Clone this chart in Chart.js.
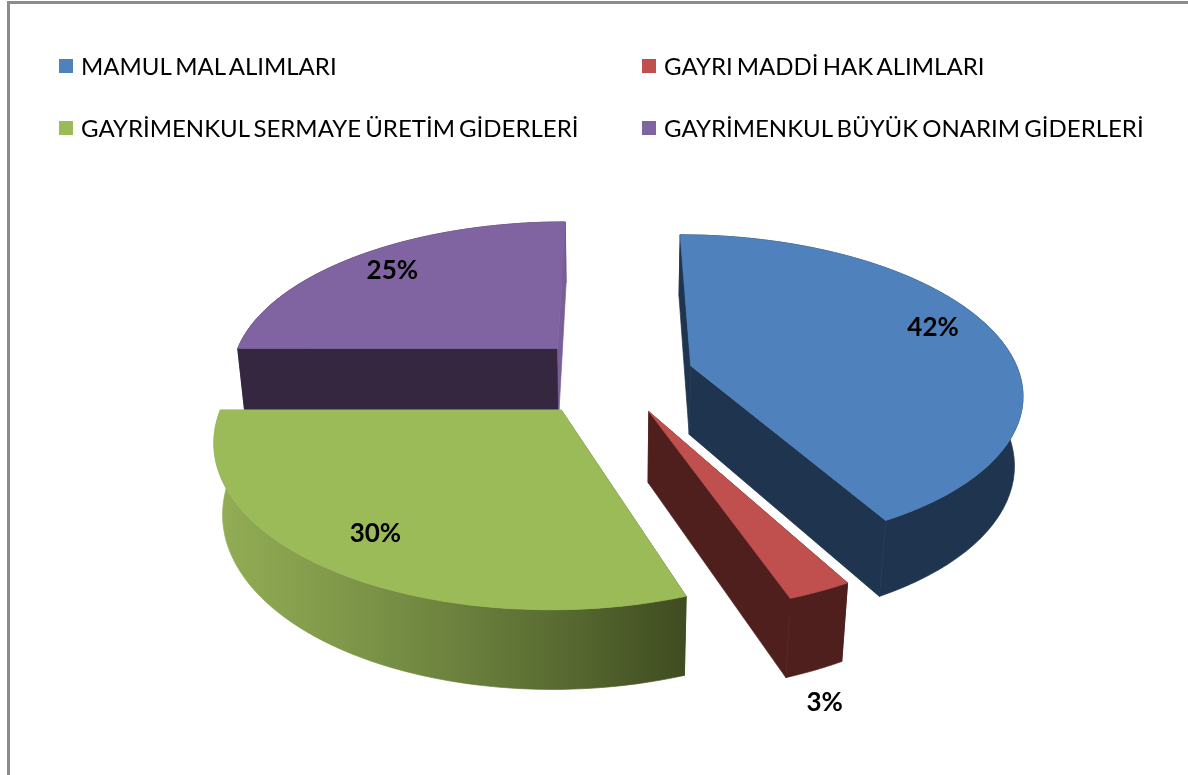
<!DOCTYPE html>
<html lang="tr">
<head>
<meta charset="utf-8">
<title>Alımlar ve giderler</title>
<script src="https://cdn.jsdelivr.net/npm/chart.js@4/dist/chart.umd.js"></script>
<style>
  html, body { margin: 0; padding: 0; background: #fff; overflow: hidden; }
  #frame { position: absolute; left: 7px; top: 1px; width: 1181px; height: 774px;
           border-left: 3px solid #8c8c8c; border-top: 3px solid #8c8c8c; box-sizing: border-box; }
  #pie { position: absolute; left: 0; top: 0; }
  .legend-item { position: absolute; font: 24px Lato, sans-serif; color: #000; white-space: nowrap;
                 line-height: 28px; word-spacing: -2px; }
  .legend-item i { position: absolute; left: -22px; top: 7px; width: 14px; height: 14px; }
</style>
</head>
<body>
<div id="frame"></div>
<canvas id="pie" width="1188" height="775"></canvas>
<div id="legend"></div>
<script>
// Chart data
const categories = ['MAMUL MAL ALIMLARI', 'GAYRI MADDİ HAK ALIMLARI', 'GAYRİMENKUL SERMAYE ÜRETİM GİDERLERİ', 'GAYRİMENKUL BÜYÜK ONARIM GİDERLERİ'];
const shares = [42, 2.6, 30.4, 25];

// Slice styles
const topColors = ['#4f81bd', '#c0504d', '#9bbb59', '#8064a2'];
const wallColors = ['#1f354f', '#4f1f1d', null, '#35273f'];
const endFaceColors = ['#1f354f', '#4f1f1d', '#93ae55', '#7a5e98'];
const greenWallStops = ['#93ae55', '#7a9347', '#5f7235', '#3f4c20'];
const explodeOffsets = [80, 82, 88, 82];
const labelRadii = [0.8, 1.2, 0.81, 0.82];
const labelShifts = [[0, -9], [-37, 67], [0, 0], [0, 0]];
const legendColumns = [81, 664];
const legendRows = [52, 114];

// Camera used to project the flat pie
const camera = { tilt: 0.49, distance: 1800, depth: 80 };

/**
 * Projects a point on the pie plane onto the canvas
 */
function project(arc, px, py, pz) {
  const sinT = Math.sin(camera.tilt);
  const cosT = Math.cos(camera.tilt);
  const toward = py * cosT + pz * sinT;
  const up = -py * sinT + pz * cosT;
  const scale = camera.distance / (camera.distance - toward);
  return { x: arc.x + px * scale, y: arc.y - up * scale };
}

/**
 * Returns a function that gives the canvas position of an angle and radius inside a slice
 */
function slicePoint(arc) {
  const mid = (arc.startAngle + arc.endAngle) / 2;
  const ox = Math.cos(mid) * arc.options.offset;
  const oy = Math.sin(mid) * arc.options.offset;
  return (angle, radius, pz) => project(arc, ox + Math.cos(angle) * radius, oy + Math.sin(angle) * radius, pz);
}

function fillPolygon(ctx, points, fill) {
  ctx.beginPath();
  points.forEach((p, i) => (i ? ctx.lineTo(p.x, p.y) : ctx.moveTo(p.x, p.y)));
  ctx.closePath();
  ctx.fillStyle = fill;
  ctx.strokeStyle = fill;
  ctx.lineWidth = 0.7;
  ctx.fill();
  ctx.stroke();
}

/**
 * Draws a slice: curved wall, cut faces and top
 */
function drawSlice(ctx, arc, index) {
  const at = slicePoint(arc);
  const R = arc.outerRadius;
  const h = -camera.depth;
  const rimAngles = [];
  for (let i = 0; i <= 60; i++) {
    rimAngles.push(arc.startAngle + (arc.endAngle - arc.startAngle) * i / 60);
  }
  const topRim = rimAngles.map(a => at(a, R, 0));
  const lowRim = rimAngles.map(a => at(a, R, h));

  let wallFill = wallColors[index];
  if (!wallFill) {
    const xs = lowRim.concat(topRim).map(p => p.x);
    wallFill = ctx.createLinearGradient(Math.min(...xs), 0, Math.max(...xs), 0);
    greenWallStops.forEach((c, i) => wallFill.addColorStop(i / (greenWallStops.length - 1), c));
  }

  fillPolygon(ctx, topRim.concat(lowRim.slice().reverse()), wallFill);
  fillPolygon(ctx, [at(0, 0, 0), at(0, 0, h), at(arc.startAngle, R, h), at(arc.startAngle, R, 0)], wallFill);
  fillPolygon(ctx, [at(0, 0, 0), at(0, 0, h), at(arc.endAngle, R, h), at(arc.endAngle, R, 0)], endFaceColors[index]);
  fillPolygon(ctx, [at(0, 0, 0)].concat(topRim), arc.options.backgroundColor);
}

function drawLabels(ctx, arcs) {
  ctx.font = 'bold 26px Lato, sans-serif';
  ctx.fillStyle = '#000';
  ctx.textAlign = 'center';
  ctx.textBaseline = 'middle';
  arcs.forEach((arc, i) => {
    const mid = (arc.startAngle + arc.endAngle) / 2;
    const p = slicePoint(arc)(mid, arc.outerRadius * labelRadii[i], 0);
    ctx.fillText(Math.round(shares[i]) + '%', p.x + labelShifts[i][0], p.y + labelShifts[i][1]);
  });
}

// Replaces the flat drawing with extruded slices, back to front
const pie3dPlugin = {
  id: 'pie3d',
  beforeDatasetsDraw(chart) {
    const arcs = chart.getDatasetMeta(0).data;
    const order = arcs.map((arc, i) => i).sort((a, b) =>
      Math.sin((arcs[a].startAngle + arcs[a].endAngle) / 2) * arcs[a].options.offset -
      Math.sin((arcs[b].startAngle + arcs[b].endAngle) / 2) * arcs[b].options.offset);
    order.forEach(i => drawSlice(chart.ctx, arcs[i], i));
    drawLabels(chart.ctx, arcs);
    return false;
  }
};

new Chart(document.getElementById('pie'), {
  type: 'pie',
  data: {
    labels: categories,
    datasets: [{
      data: shares,
      backgroundColor: topColors,
      offset: explodeOffsets,
      borderWidth: 0
    }]
  },
  options: {
    responsive: false,
    animation: false,
    layout: { padding: { left: 40, right: 0, top: 2, bottom: 27 } },
    plugins: { legend: { display: false }, tooltip: { enabled: false } }
  },
  plugins: [pie3dPlugin]
});

// Legend in two columns
const legendBox = document.getElementById('legend');
categories.forEach((name, i) => {
  const item = document.createElement('div');
  item.className = 'legend-item';
  item.style.left = legendColumns[i % 2] + 'px';
  item.style.top = legendRows[Math.floor(i / 2)] + 'px';
  const swatch = document.createElement('i');
  swatch.style.background = topColors[i];
  item.appendChild(swatch);
  item.appendChild(document.createTextNode(name));
  legendBox.appendChild(item);
});
</script>
</body>
</html>
